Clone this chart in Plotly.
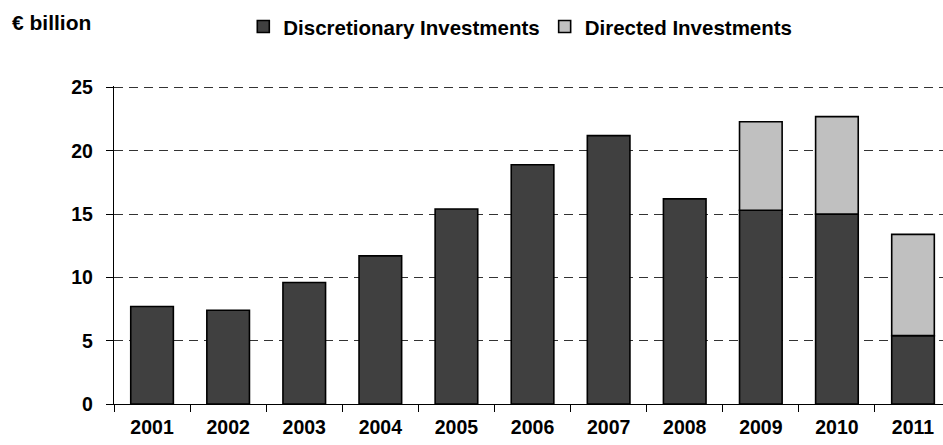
import plotly.graph_objects as go

years = ["2001", "2002", "2003", "2004", "2005", "2006", "2007", "2008", "2009", "2010", "2011"]
discretionary = [7.7, 7.4, 9.6, 11.7, 15.4, 18.9, 21.2, 16.2, 15.3, 15.0, 5.4]
directed = [0, 0, 0, 0, 0, 0, 0, 0, 7.0, 7.7, 8.0]
y_ticks = [0, 5, 10, 15, 20, 25]

FONT = dict(family="Liberation Sans, Arial, sans-serif", size=19.5, color="#000000", weight="bold")

fig = go.Figure()
fig.add_trace(go.Bar(
    x=years, y=discretionary, name="Discretionary Investments",
    marker=dict(color="#404040", line=dict(color="#000000", width=1.6)),
    width=0.56,
))
fig.add_trace(go.Bar(
    x=years, y=[d if d > 0 else None for d in directed], name="Directed Investments",
    base=discretionary,
    marker=dict(color="#C0C0C0", line=dict(color="#000000", width=1.6)),
    width=0.56,
))

fig.update_layout(
    width=943, height=445,
    margin=dict(l=114, r=0, t=86, b=41),
    paper_bgcolor="white", plot_bgcolor="white",
    barmode="overlay",
    font=FONT,
    showlegend=True,
    legend=dict(
        orientation="h", xref="container", yref="container",
        x=0.258, y=0.985, xanchor="left", yanchor="top",
        font=dict(family="Liberation Sans, Arial, sans-serif", size=20.5, color="#000000", weight="bold"),
        itemwidth=30, tracegroupgap=0, bgcolor="rgba(0,0,0,0)",
    ),
    xaxis=dict(
        type="category", range=[-0.5, 10.394],
        showline=True, linecolor="#000000", linewidth=1.3,
        ticks="outside", tickson="boundaries", ticklen=7, tickcolor="#000000", tickwidth=1,
        showgrid=False, ticklabelstandoff=5,
        tickfont=FONT,
    ),
    yaxis=dict(
        range=[0, 25.12], tickvals=y_ticks,
        showline=True, linecolor="#000000", linewidth=1.3,
        ticks="outside", ticklen=7, tickcolor="#000000", tickwidth=1,
        showgrid=True, gridcolor="#333333", gridwidth=1, griddash="9px,6px",
        zeroline=False, ticklabelstandoff=9,
        tickfont=FONT,
    ),
    annotations=[dict(
        text="€ billion", xref="paper", yref="paper",
        x=-104/829, y=1 + (86 - 22) / 318, xanchor="left", yanchor="middle",
        showarrow=False, font=dict(family="Liberation Sans, Arial, sans-serif", size=21, color="#000000", weight="bold"),
    )],
)

fig.write_html("out.html")
